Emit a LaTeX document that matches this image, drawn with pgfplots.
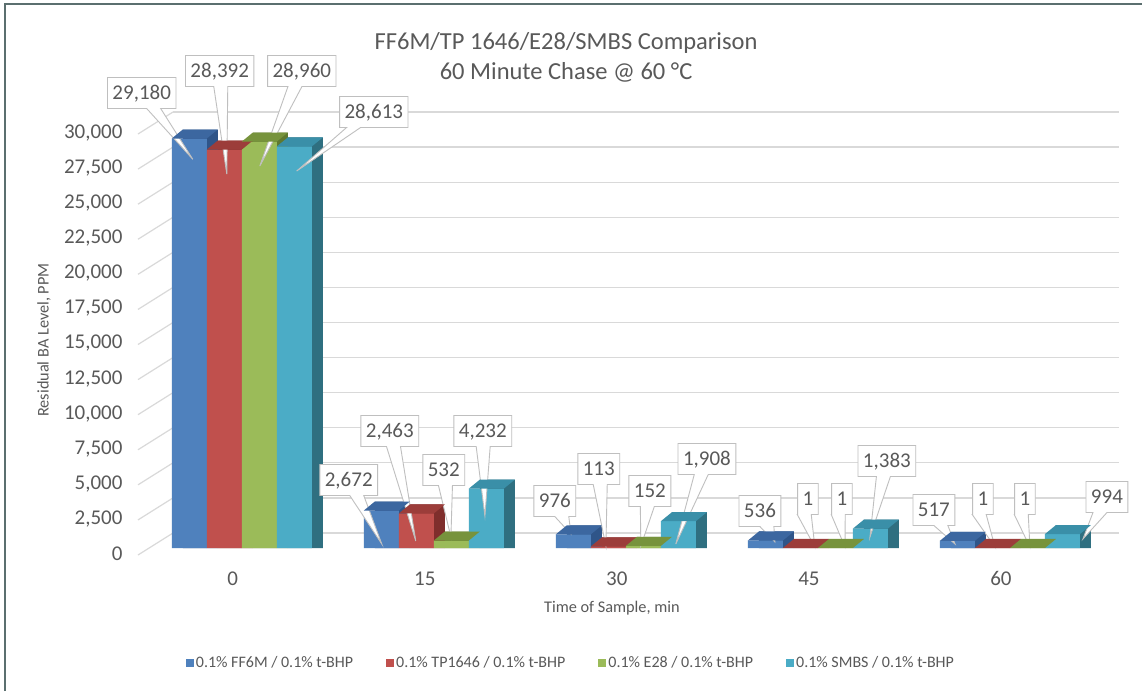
\documentclass[border=0pt]{standalone}
\usepackage{fontspec}
\setmainfont{Carlito}
\usepackage{pgfplots}
\usepackage{pgfplotstable}
\pgfplotsset{compat=1.18}
\usetikzlibrary{shapes.callouts}

\definecolor{cA}{HTML}{4F81BD}\definecolor{cAtop}{HTML}{3C67A0}\definecolor{cAside}{HTML}{2F5589}
\definecolor{cB}{HTML}{C0504D}\definecolor{cBtop}{HTML}{9C3D3A}\definecolor{cBside}{HTML}{7F2E2C}
\definecolor{cC}{HTML}{9BBB59}\definecolor{cCtop}{HTML}{77933C}\definecolor{cCside}{HTML}{5F7930}
\definecolor{cD}{HTML}{4BACC6}\definecolor{cDtop}{HTML}{3A8FA8}\definecolor{cDside}{HTML}{2F6F80}
\definecolor{gridcol}{HTML}{D9D9D9}
\definecolor{cogray}{HTML}{BFBFBF}
\definecolor{txt}{HTML}{595959}
\definecolor{framecol}{HTML}{5B6F6F}

% top faces of the 3-D bars (offsets: bar shift -52.5/-17.5/17.5/52.5pt, width 35pt, depth 11pt x 9pt)
\pgfdeclareplotmark{topA}{\pgfpathmoveto{\pgfpoint{-70pt}{0pt}}\pgfpathlineto{\pgfpoint{-59pt}{9pt}}\pgfpathlineto{\pgfpoint{-24pt}{9pt}}\pgfpathlineto{\pgfpoint{-35pt}{0pt}}\pgfpathclose\pgfusepathqfill}
\pgfdeclareplotmark{topB}{\pgfpathmoveto{\pgfpoint{-35pt}{0pt}}\pgfpathlineto{\pgfpoint{-24pt}{9pt}}\pgfpathlineto{\pgfpoint{11pt}{9pt}}\pgfpathlineto{\pgfpoint{0pt}{0pt}}\pgfpathclose\pgfusepathqfill}
\pgfdeclareplotmark{topC}{\pgfpathmoveto{\pgfpoint{0pt}{0pt}}\pgfpathlineto{\pgfpoint{11pt}{9pt}}\pgfpathlineto{\pgfpoint{46pt}{9pt}}\pgfpathlineto{\pgfpoint{35pt}{0pt}}\pgfpathclose\pgfusepathqfill}
\pgfdeclareplotmark{topD}{\pgfpathmoveto{\pgfpoint{35pt}{0pt}}\pgfpathlineto{\pgfpoint{46pt}{9pt}}\pgfpathlineto{\pgfpoint{81pt}{9pt}}\pgfpathlineto{\pgfpoint{70pt}{0pt}}\pgfpathclose\pgfusepathqfill}

\pgfplotstableread{
x a b c d
0 29180 28392 28960 28613
1 2672 2463 532 4232
2 976 113 152 1908
3 536 1 1 1383
4 517 1 1 994
}\data

\tikzset{co/.style={rectangle callout, draw=cogray, fill=white, line width=0.9pt,
  font=\fontsize{21}{25}\selectfont, text=txt, inner xsep=5pt, inner ysep=7.5pt,
  text height=14pt, text depth=2pt, callout pointer width=14pt}}
\newcommand\co[5]{\node[co, callout absolute pointer={(axis cs:#3,#4)}] at (axis cs:#1,#2) {#5};}

\begin{document}
\begin{tikzpicture}
\useasboundingbox (0,0) rectangle (1142pt,-691pt);
\fill[white] (0,0) rectangle (1142pt,-691pt);
\draw[framecol, line width=1.6pt] (5pt,-691pt) -- (5pt,-4pt) -- (1142pt,-4pt);

% back wall
\begin{axis}[
  at={(173pt,-533pt)}, anchor=south west,
  scale only axis, width=946pt, height=421pt,
  xmin=0, xmax=1, ymin=0, ymax=30000,
  ytick={0,2500,5000,7500,10000,12500,15000,17500,20000,22500,25000,27500,30000},
  scaled y ticks=false,
  xtick=\empty, yticklabels={},
  ymajorgrids, grid style={gridcol, line width=1.2pt},
  axis line style={draw=none}, tick style={draw=none}, clip=false]
  \pgfplotsinvokeforeach{0,2500,5000,7500,10000,12500,15000,17500,20000,22500,25000,27500,30000}{\draw[gridcol, line width=1.2pt] (axis cs:0,#1) -- ++(-35pt,-22pt);}
\end{axis}

\begin{axis}[
  at={(140pt,-548pt)}, anchor=south west,
  scale only axis, width=975pt, height=421pt,
  xmin=-0.53, xmax=4.547, ymin=0, ymax=30000,
  clip=false,
  axis line style={draw=none}, tick style={draw=none},
  xtick={0,1,2,3,4}, xticklabels={0,15,30,45,60},
  ytick={0,2500,5000,7500,10000,12500,15000,17500,20000,22500,25000,27500,30000},
  scaled y ticks=false,
  /pgf/number format/.cd, fixed, 1000 sep={,}, assume math mode=true, /pgfplots/.cd,
  ticklabel style={font=\fontsize{21}{25}\selectfont, text=txt},
  xticklabel style={yshift=-20pt, xshift=-9pt},
  yticklabel style={xshift=-14pt, yshift=-6pt},
  title={FF6M/TP 1646/E28/SMBS Comparison\\60 Minute Chase @ 60 °C},
  title style={at={(axis description cs:0.437,1.150)}, anchor=center, align=center,
    font=\fontsize{24.5}{30}\selectfont, text=txt},
  xlabel={Time of Sample, min},
  xlabel style={at={(axis description cs:0.484,0)}, anchor=center, yshift=-60pt,
    font=\fontsize{16.3}{19}\selectfont, text=txt},
  ylabel={Residual BA Level, PPM},
  ylabel style={at={(axis description cs:-0.0985,0.494)}, anchor=center,
    font=\fontsize{16.3}{19}\selectfont, text=txt},
  legend style={at={(axis description cs:0.442,-0.273)}, anchor=center, draw=none,
    font=\fontsize{16}{19}\selectfont, text=txt, legend columns=4,
    /tikz/every even column/.append style={column sep=31pt}},
  legend image code/.code={\fill[#1] (0pt,-4pt) rectangle (8pt,4pt);},
]
% series A
\addplot[ybar, bar width=35pt, bar shift=-41.5pt, fill=cAside, draw=none, forget plot] table[x=x, y expr=\thisrow{a}+641]{\data};
\addplot[ybar, bar width=35pt, bar shift=-52.5pt, fill=cA, draw=none] table[x=x, y=a]{\data};
\addlegendentry{0.1\% FF6M / 0.1\% t-BHP}
\addplot[color=cAtop, only marks, mark=topA, forget plot] table[x=x, y=a]{\data};
% series B
\addplot[ybar, bar width=35pt, bar shift=-6.5pt, fill=cBside, draw=none, forget plot] table[x=x, y expr=\thisrow{b}+641]{\data};
\addplot[ybar, bar width=35pt, bar shift=-17.5pt, fill=cB, draw=none] table[x=x, y=b]{\data};
\addlegendentry{0.1\% TP1646 / 0.1\% t-BHP}
\addplot[color=cBtop, only marks, mark=topB, forget plot] table[x=x, y=b]{\data};
% series C
\addplot[ybar, bar width=35pt, bar shift=28.5pt, fill=cCside, draw=none, forget plot] table[x=x, y expr=\thisrow{c}+641]{\data};
\addplot[ybar, bar width=35pt, bar shift=17.5pt, fill=cC, draw=none] table[x=x, y=c]{\data};
\addlegendentry{0.1\% E28 / 0.1\% t-BHP}
\addplot[color=cCtop, only marks, mark=topC, forget plot] table[x=x, y=c]{\data};
% series D
\addplot[ybar, bar width=35pt, bar shift=63.5pt, fill=cDside, draw=none, forget plot] table[x=x, y expr=\thisrow{d}+641]{\data};
\addplot[ybar, bar width=35pt, bar shift=52.5pt, fill=cD, draw=none] table[x=x, y=d]{\data};
\addlegendentry{0.1\% SMBS / 0.1\% t-BHP}
\addplot[color=cDtop, only marks, mark=topD, forget plot] table[x=x, y=d]{\data};

% data callouts
\co{-0.521}{32423}{-0.255}{27700}{29,180}
\co{-0.115}{33991}{-0.078}{26651}{28,392}
\co{0.3125}{33991}{0.094}{27221}{28,960}
\co{0.6875}{31069}{0.286}{26865}{28,613}
\co{0.557}{4846}{0.729}{285}{2,672}
\co{0.771}{8337}{0.906}{499}{2,463}
\co{1.052}{5558}{1.089}{784}{532}
\co{1.255}{8337}{1.266}{2280}{4,232}
\co{1.630}{3349}{1.714}{998}{976}
\co{1.859}{5630}{1.896}{143}{113}
\co{2.125}{4062}{2.078}{143}{152}
\co{2.422}{6342}{2.260}{285}{1,908}
\co{2.698}{2637}{2.776}{428}{536}
\co{2.948}{3492}{2.984}{71}{1}
\co{3.125}{3492}{3.141}{71}{1}
\co{3.359}{6200}{3.271}{784}{1,383}
\co{3.604}{2708}{3.714}{285}{517}
\co{3.859}{3492}{3.922}{71}{1}
\co{4.078}{3492}{4.104}{71}{1}
\co{4.505}{3634}{4.380}{641}{994}
\end{axis}
\end{tikzpicture}
\end{document}
